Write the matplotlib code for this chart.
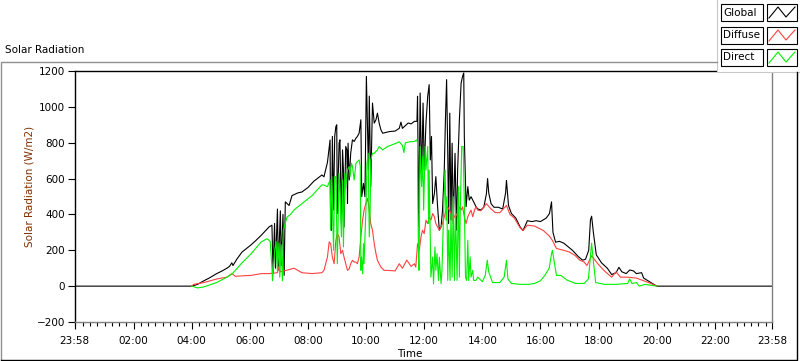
import matplotlib
matplotlib.use("Agg")
import matplotlib.pyplot as plt
from matplotlib.patches import Rectangle
from matplotlib.lines import Line2D
from matplotlib.ticker import MultipleLocator, FixedLocator

# --- Data (time in decimal hours, radiation in W/m2) ---
global_t = [-0.033, 4.00, 4.20, 4.42, 4.60, 4.86, 5.05, 5.21, 5.30, 5.38, 5.42, 5.55, 5.73,
            6.04, 6.21, 6.40, 6.66, 6.76, 6.80, 6.85, 6.88, 6.95, 6.98, 7.05, 7.08, 7.14,
            7.18, 7.22, 7.35, 7.45, 7.65, 7.79, 8.00, 8.20, 8.48,
            8.55, 8.67, 8.73, 8.76, 8.78, 8.81, 8.84, 8.88, 8.92, 8.96, 8.99, 9.01, 9.07,
            9.10, 9.15, 9.19, 9.22, 9.24, 9.30, 9.34, 9.36, 9.38, 9.42, 9.47, 9.53, 9.59,
            9.65, 9.70, 9.76, 9.82, 9.85, 9.91, 9.96, 10.01, 10.08, 10.11, 10.16, 10.22,
            10.28, 10.34, 10.39, 10.45, 10.51, 10.57, 10.80, 11.00, 11.14, 11.20, 11.25,
            11.45, 11.55, 11.66, 11.75, 11.77, 11.81, 11.84, 11.86, 11.91, 11.96, 12.00,
            12.06, 12.12, 12.17, 12.21, 12.25, 12.29, 12.35, 12.40, 12.46, 12.52, 12.58,
            12.63, 12.69, 12.73, 12.77, 12.81, 12.84, 12.88, 12.92, 12.96, 13.00, 13.06,
            13.11, 13.15, 13.21, 13.27, 13.32, 13.36, 13.38, 13.44, 13.50, 13.55, 13.61,
            13.67, 13.73, 13.78, 13.85, 13.95, 14.05, 14.14, 14.18, 14.22,
            14.30, 14.40, 14.55, 14.70, 14.80, 14.83, 14.90, 15.00, 15.15, 15.30, 15.40,
            15.55, 15.70, 15.85, 16.00, 16.10, 16.20, 16.31, 16.38, 16.43, 16.52, 16.65,
            16.80, 16.95, 17.10, 17.30, 17.45, 17.55, 17.66, 17.72, 17.76, 17.82, 17.92,
            18.10, 18.30, 18.45, 18.60, 18.70, 18.80, 18.95, 19.07, 19.20, 19.30, 19.48,
            19.55, 19.70, 19.85, 20.00, 23.967]
global_v = [0, 0, 10, 30, 45, 70, 85, 100, 110, 130, 115, 150, 190,
            230, 255, 285, 330, 340, 70, 350, 100, 430, 90, 420, 115, 400,
            60, 470, 450, 505, 520, 525, 550, 585, 620,
            610, 690, 775, 815, 330, 312, 835, 425, 835, 890, 900, 405, 797,
            816, 350, 760, 648, 330, 779, 760, 461, 797, 592, 741, 816, 807,
            825, 835, 853, 928, 499, 573, 499, 1170, 648, 1060, 555, 1021,
            909, 928, 965, 909, 872, 853, 862, 865, 880, 915, 880,
            910, 905, 919, 919, 1059, 331, 760, 1077, 592, 1021, 648,
            909, 1059, 1124, 704, 835, 461, 517, 611, 443, 312, 331,
            424, 648, 928, 1152, 741, 349, 965, 368, 797, 349, 741,
            312, 648, 928, 1133, 1170, 1189, 835, 443, 555, 480, 499,
            480, 461, 443, 430, 425, 440, 515, 600, 520,
            460, 440, 440, 430, 520, 590, 450, 405, 380, 330, 310,
            365, 360, 365, 360, 370, 380, 405, 470, 300, 245, 250,
            240, 220, 200, 165, 145, 150, 200, 370, 390, 300, 175,
            130, 100, 65, 75, 105, 80, 70, 90, 85, 70, 75,
            45, 30, 15, 0, 0]

diffuse_t = [4.00, 4.07, 4.42, 4.86, 5.21, 5.38, 5.50, 6.04, 6.40, 6.66, 6.95, 7.00, 7.05,
             7.30, 7.52, 7.79, 8.14, 8.48,
             8.55, 8.67, 8.73, 8.78, 8.84, 8.90, 8.96, 9.01, 9.07, 9.13, 9.19, 9.24, 9.30,
             9.36, 9.42, 9.47, 9.53, 9.59, 9.65, 9.70, 9.76, 9.82, 9.88, 9.93, 9.99, 10.05,
             10.11, 10.16, 10.22, 10.28, 10.34, 10.39, 10.51, 10.62, 10.74,
             11.00, 11.14, 11.25, 11.40, 11.55,
             11.66, 11.71, 11.77, 11.83, 11.89, 11.94, 12.00, 12.06, 12.12, 12.17, 12.23,
             12.29, 12.35, 12.40, 12.46, 12.52, 12.58, 12.63, 12.69, 12.75, 12.81, 12.86,
             12.92, 12.98, 13.04, 13.09, 13.15, 13.21, 13.27, 13.32, 13.38, 13.44, 13.50,
             13.55, 13.61, 13.67, 13.73, 13.78, 13.84,
             13.95, 14.14, 14.30, 14.45, 14.60, 14.83, 14.95,
             15.10, 15.28, 15.40, 15.55, 15.80, 16.10, 16.30, 16.41, 16.55, 16.80, 17.00,
             17.20, 17.35, 17.50, 17.60, 17.70, 17.76, 17.85, 18.00, 18.20, 18.45, 18.60,
             18.75, 19.00, 19.30, 19.55, 19.80, 20.00]
diffuse_v = [0, 10, 20, 40, 50, 70, 55, 60, 70, 70, 75, 110, 80,
             90, 100, 75, 70, 75,
             88, 162, 247, 237, 162, 125, 256, 293, 275, 181, 200, 162, 125,
             88, 97, 125, 144, 134, 134, 125, 162, 275, 368, 424, 461, 489,
             424, 349, 312, 237, 181, 144, 106, 88, 88,
             85, 125, 100, 145, 110,
             125, 106, 237, 200, 275, 312, 293, 368, 349, 387, 368,
             405, 387, 349, 331, 312, 331, 349, 387, 424, 443, 424,
             405, 368, 387, 405, 387, 443, 424, 443, 387, 349, 387,
             405, 424, 387, 424, 443, 424,
             420, 460, 430, 410, 410, 450, 400,
             380, 330, 310, 340, 335, 310, 280, 255, 210, 200, 190,
             170, 145, 135, 115, 150, 170, 150, 120, 85, 50, 80,
             50, 50, 45, 30, 15, 0]

direct_t = [4.00, 4.20, 4.40, 4.86, 5.21, 5.40, 5.73, 6.04, 6.38, 6.59, 6.70, 6.76, 6.78,
            6.85, 6.90, 6.95, 7.00, 7.03, 7.08, 7.12, 7.15, 7.28, 7.40, 7.52, 7.79, 8.14,
            8.48, 8.55, 8.67, 8.76, 8.78, 8.82, 8.88, 8.92, 8.96, 9.01, 9.07, 9.10, 9.15,
            9.19, 9.22, 9.27, 9.30, 9.36, 9.42, 9.45, 9.50, 9.53, 9.59, 9.65, 9.70, 9.76,
            9.80, 9.82, 9.84, 9.88, 9.91, 9.93, 9.97, 10.00, 10.03, 10.07, 10.11, 10.14,
            10.16, 10.22, 10.28, 10.39, 10.45, 10.57, 10.74, 11.00,
            11.14, 11.25, 11.30, 11.35, 11.50, 11.66, 11.75, 11.77, 11.80, 11.82, 11.86,
            11.91, 11.95, 11.98, 12.03, 12.06, 12.12, 12.15, 12.17, 12.21, 12.23, 12.29,
            12.32, 12.37, 12.40, 12.44, 12.49, 12.52, 12.58, 12.61, 12.67, 12.72, 12.75,
            12.78, 12.81, 12.84, 12.89, 12.92, 12.96, 13.00, 13.04, 13.08, 13.13, 13.18,
            13.21, 13.24, 13.29, 13.34, 13.38, 13.42, 13.46, 13.50, 13.53, 13.58, 13.61,
            13.67, 13.70, 13.78, 13.84, 14.00, 14.10, 14.17, 14.22, 14.35, 14.60, 14.75,
            14.83, 14.88,
            15.00, 15.30, 15.60, 15.80, 16.00, 16.15, 16.30, 16.38, 16.41, 16.47, 16.55,
            16.70, 16.90, 17.20, 17.50, 17.65, 17.72, 17.76, 17.82, 17.90, 18.20, 18.60,
            19.00, 19.07, 19.15, 19.30, 19.40, 19.60, 20.00]
direct_v = [0, -10, -5, 20, 50, 70, 130, 180, 245, 265, 250, 105, 30,
            190, 250, 80, 240, 50, 230, 30, 310, 385, 400, 425, 460, 505,
            565, 564, 555, 592, 312, 611, 200, 611, 611, 125, 630, 536, 275,
            592, 219, 629, 555, 648, 667, 611, 685, 667, 592, 685, 695, 704,
            667, 88, 162, 69, 237, 125, 312, 461, 685, 741, 275, 424,
            704, 741, 741, 760, 779, 760, 779, 795,
            805, 785, 745, 800, 805, 807, 816, 797, 181, 88, 779,
            555, 723, 424, 779, 648, 779, 349, 648, 237, 50, 162,
            13, 219, 88, 181, 32, 162, 13, 88, 424, 648, 368,
            499, 32, 312, 32, 405, 50, 499, 32, 424, 32, 555,
            50, 424, 779, 779, 461, 50, 32, 256, 32, 162, 50,
            88, 32, 32, 50, 25, 60, 145, 80, 20, 20, 50,
            145, 40,
            15, 10, 10, 15, 30, 60, 100, 180, 200, 140, 60,
            60, 35, 15, 15, 40, 170, 240, 140, 20, 10, 10,
            15, 40, 15, 20, 0, 10, 0]

series_names = ["Global", "Diffuse", "Direct"]
series_colors = ["black", "#ff4040", "#00f000"]

x_ticks = [-2 / 60, 2, 4, 6, 8, 10, 12, 14, 16, 18, 20, 22, 24 - 2 / 60]
x_tick_labels = ["23:58", "02:00", "04:00", "06:00", "08:00", "10:00", "12:00",
                 "14:00", "16:00", "18:00", "20:00", "22:00", "23:58"]

plt.rcParams['font.family'] = ['DejaVu Sans']
W, H = 800, 361
fig = plt.figure(figsize=(W / 100, H / 100), dpi=100)
fig.patch.set_facecolor("white")

# --- Main plot area ---
ax = fig.add_axes([74.5 / W, 1 - 322 / H, (772 - 74.5) / W, (322 - 71) / H])
ax.plot(global_t, global_v, color=series_colors[0], lw=0.8)
ax.plot(diffuse_t, diffuse_v, color=series_colors[1], lw=0.8)
ax.plot(direct_t, direct_v, color=series_colors[2], lw=0.8)

ax.set_xlim(-2 / 60, 24 - 2 / 60)
ax.set_ylim(-200, 1200)
ax.xaxis.set_major_locator(FixedLocator(x_ticks))
ax.set_xticklabels(x_tick_labels)
ax.xaxis.set_minor_locator(MultipleLocator(0.25))
ax.yaxis.set_major_locator(MultipleLocator(200))
ax.tick_params(axis='both', labelsize=7.5, colors='black', width=0.8)
ax.tick_params(axis='x', which='major', length=5, pad=5)
ax.tick_params(axis='x', which='minor', length=3, width=0.8)
ax.tick_params(axis='y', which='major', length=5, pad=2)
ax.spines['left'].set_color('black')
ax.spines['top'].set_color('black')
ax.spines['right'].set_color('#808080')
ax.spines['bottom'].set_color('#808080')
for s in ax.spines.values():
    s.set_linewidth(1.0)
ax.set_ylabel("Solar Radiation (W/m2)", fontsize=7.5, color='#803000', va='center')
ax.yaxis.set_label_coords(-0.064, 0.54)
ax.set_xlabel("Time", fontsize=7.5, va='center')
ax.xaxis.set_label_coords(0.481, -0.127)

# --- Overlay for frame, title and legend (pixel coordinates) ---
ov = fig.add_axes([0, 0, 1, 1], zorder=5)
ov.set_xlim(0, W)
ov.set_ylim(H, 0)
ov.axis('off')
ov.patch.set_alpha(0)

ov.plot([1, 1, 717], [359, 61.5, 61.5], color='#909090', lw=1)
ov.plot([1, 796.5, 796.5], [359.5, 359.5, 72], color='black', lw=1)
ov.text(5, 50, "Solar Radiation", fontsize=7.5, ha='left', va='center')

# legend panel
ov.add_patch(Rectangle((717, -1), 85, 73, facecolor='white', edgecolor='#c8c8c8', lw=0.8))
row_tops = [4, 27, 49]
for name, col, top in zip(series_names, series_colors, row_tops):
    ov.add_patch(Rectangle((721, top), 42, 17, facecolor='white', edgecolor='black', lw=0.8))
    ov.add_patch(Rectangle((767, top), 30, 17, facecolor='white', edgecolor='black', lw=0.8))
    ov.text(723.5, top + 8.5, name, fontsize=7.5, ha='left', va='center')
    ov.add_line(Line2D([769, 778, 786, 795], [top + 14, top + 3, top + 13, top + 3],
                       color=col, lw=0.8))

fig.savefig("out.png", dpi=100)
